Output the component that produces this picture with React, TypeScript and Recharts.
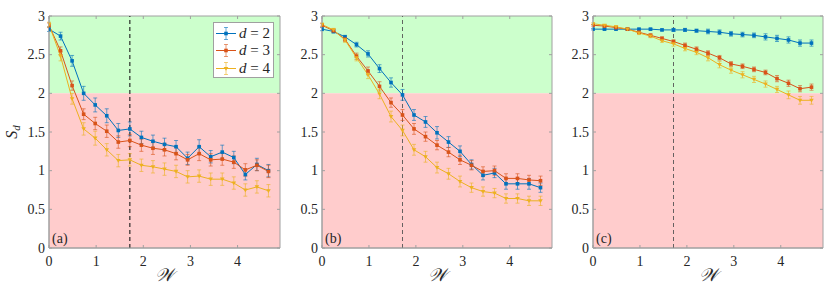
import { LineChart, Line, XAxis, YAxis, ErrorBar, ReferenceArea, ReferenceLine, Legend } from "recharts"

// disorder strength W, same grid for all three panels
const W = [0, 0.245, 0.49, 0.735, 0.98, 1.225, 1.47, 1.715, 1.96, 2.205, 2.45, 2.695, 2.94, 3.185, 3.43, 3.675, 3.92, 4.165, 4.41, 4.655]

// panel (a)
const aD2 = [2.83, 2.74, 2.42, 2.0, 1.85, 1.71, 1.52, 1.54, 1.43, 1.38, 1.34, 1.31, 1.16, 1.31, 1.18, 1.24, 1.17, 0.95, 1.08, 1.0]
const aD2Err = [0.03, 0.05, 0.07, 0.09, 0.09, 0.09, 0.09, 0.09, 0.08, 0.08, 0.08, 0.08, 0.08, 0.09, 0.08, 0.09, 0.08, 0.07, 0.08, 0.08]
const aD3 = [2.88, 2.55, 2.1, 1.73, 1.61, 1.51, 1.37, 1.39, 1.33, 1.29, 1.27, 1.22, 1.14, 1.22, 1.14, 1.15, 1.11, 1.01, 1.07, 0.99]
const aD3Err = [0.03, 0.05, 0.06, 0.07, 0.08, 0.08, 0.08, 0.08, 0.08, 0.08, 0.08, 0.08, 0.07, 0.09, 0.08, 0.08, 0.08, 0.08, 0.07, 0.08]
const aD4 = [2.89, 2.48, 1.93, 1.54, 1.42, 1.27, 1.13, 1.14, 1.07, 1.05, 1.02, 0.99, 0.92, 0.93, 0.89, 0.89, 0.84, 0.75, 0.79, 0.74]
const aD4Err = [0.03, 0.06, 0.07, 0.08, 0.09, 0.08, 0.08, 0.08, 0.08, 0.08, 0.08, 0.08, 0.08, 0.08, 0.08, 0.08, 0.08, 0.08, 0.08, 0.08]

// panel (b)
const bD2 = [2.83, 2.8, 2.73, 2.63, 2.51, 2.32, 2.14, 1.98, 1.72, 1.63, 1.49, 1.37, 1.25, 1.08, 0.94, 0.97, 0.83, 0.83, 0.83, 0.78]
const bD2Err = [0.02, 0.02, 0.02, 0.03, 0.04, 0.05, 0.06, 0.07, 0.07, 0.07, 0.08, 0.07, 0.07, 0.06, 0.06, 0.06, 0.07, 0.07, 0.07, 0.06]
const bD3 = [2.88, 2.81, 2.7, 2.48, 2.29, 2.09, 1.88, 1.72, 1.54, 1.44, 1.33, 1.24, 1.14, 1.07, 0.99, 1.0, 0.9, 0.9, 0.88, 0.87]
const bD3Err = [0.02, 0.02, 0.03, 0.04, 0.05, 0.06, 0.06, 0.07, 0.07, 0.06, 0.06, 0.06, 0.06, 0.06, 0.06, 0.06, 0.06, 0.06, 0.06, 0.06]
const bD4 = [2.89, 2.82, 2.69, 2.46, 2.24, 1.99, 1.7, 1.52, 1.27, 1.18, 1.04, 0.96, 0.86, 0.78, 0.73, 0.71, 0.64, 0.64, 0.61, 0.61]
const bD4Err = [0.02, 0.02, 0.03, 0.04, 0.05, 0.06, 0.07, 0.07, 0.07, 0.07, 0.07, 0.07, 0.07, 0.06, 0.06, 0.06, 0.06, 0.06, 0.06, 0.06]

// panel (c)
const cD2 = [2.83, 2.83, 2.83, 2.83, 2.83, 2.83, 2.82, 2.82, 2.82, 2.81, 2.8, 2.79, 2.77, 2.76, 2.75, 2.73, 2.71, 2.69, 2.65, 2.65]
const cD2Err = [0.01, 0.01, 0.01, 0.01, 0.01, 0.01, 0.01, 0.02, 0.02, 0.02, 0.03, 0.03, 0.03, 0.03, 0.03, 0.04, 0.04, 0.04, 0.04, 0.04]
const cD3 = [2.88, 2.87, 2.85, 2.83, 2.79, 2.75, 2.71, 2.67, 2.62, 2.57, 2.52, 2.46, 2.38, 2.35, 2.31, 2.27, 2.19, 2.13, 2.06, 2.08]
const cD3Err = [0.01, 0.01, 0.01, 0.01, 0.02, 0.02, 0.02, 0.02, 0.03, 0.03, 0.03, 0.03, 0.03, 0.03, 0.03, 0.03, 0.04, 0.04, 0.04, 0.04]
const cD4 = [2.9, 2.88, 2.86, 2.83, 2.78, 2.74, 2.68, 2.64, 2.58, 2.53, 2.46, 2.37, 2.3, 2.24, 2.18, 2.12, 2.05, 1.98, 1.91, 1.91]
const cD4Err = [0.01, 0.01, 0.01, 0.01, 0.02, 0.02, 0.02, 0.03, 0.03, 0.03, 0.04, 0.04, 0.04, 0.04, 0.04, 0.04, 0.04, 0.05, 0.05, 0.05]

const D_VALUES = [2, 3, 4]
const X_TICKS = [0, 1, 2, 3, 4]
const Y_TICKS = [0, 0.5, 1, 1.5, 2, 2.5, 3]
const W_CRIT = 1.715

const BLUE = "#0072BD"
const ORANGE = "#D95319"
const YELLOW = "#EDB120"
const COLORS = [BLUE, ORANGE, YELLOW]
const AXIS = "#a0a0a0"
const TXT = "#262626"
const FONT = "'Liberation Serif', 'DejaVu Serif', serif"

const TOP = 16
const PLOT_H = 232
const CHART_H = 286

function makeRows(d2: number[], e2: number[], d3: number[], e3: number[], d4: number[], e4: number[]) {
  return W.map((w, i) => ({ w, d2: d2[i], e2: e2[i], d3: d3[i], e3: e3[i], d4: d4[i], e4: e4[i] }))
}

const square = (color: string) => (p: any) => {
  if (p.cx == null || p.cy == null) return <g key={`s-${p.index}`} />
  return <rect key={`s-${p.index}`} x={p.cx - 1.8} y={p.cy - 1.8} width={3.6} height={3.6} fill={color} />
}

const triangle = (color: string) => (p: any) => {
  if (p.cx == null || p.cy == null) return <g key={`t-${p.index}`} />
  const pts = `${p.cx - 2.3},${p.cy - 1.6} ${p.cx + 2.3},${p.cy - 1.6} ${p.cx},${p.cy + 2.2}`
  return <polygon key={`t-${p.index}`} points={pts} fill={color} />
}

function XTick(props: any) {
  const { x, y, payload } = props
  return (
    <g>
      <line x1={x} x2={x} y1={y} y2={y - 3} stroke={AXIS} />
      <line x1={x} x2={x} y1={y - PLOT_H} y2={y - PLOT_H + 3} stroke={AXIS} />
      <text x={x} y={y + 18} textAnchor="middle" fontFamily={FONT} fontSize={14} fill={TXT}>{payload.value}</text>
    </g>
  )
}

const makeYTick = (plotW: number) => (props: any) => {
  const { x, y, payload } = props
  return (
    <g key={`yt-${payload.value}`}>
      <line x1={x} x2={x + 3} y1={y} y2={y} stroke={AXIS} />
      <line x1={x + plotW} x2={x + plotW - 3} y1={y} y2={y} stroke={AXIS} />
      <text x={x - 4} y={y + 4.5} textAnchor="end" fontFamily={FONT} fontSize={14} fill={TXT}>{payload.value}</text>
    </g>
  )
}

function WLabel(props: any) {
  const vb = props.viewBox || {}
  return (
    <text x={vb.x + vb.width / 2} y={vb.y + 33} textAnchor="middle" fontFamily={FONT} fontSize={18} fontStyle="italic" fill={TXT}>
      𝒲
    </text>
  )
}

function SdLabel(props: any) {
  const vb = props.viewBox || {}
  const cx = (vb.x || 0) + 17
  const cy = (vb.y || TOP) + (vb.height || PLOT_H) / 2
  return (
    <text transform={`translate(${cx}, ${cy}) rotate(-90)`} textAnchor="middle" fontFamily={FONT} fontSize={16} fill={TXT}>
      <tspan fontStyle="italic">S</tspan>
      <tspan fontStyle="italic" fontSize={11} dy={3}>d</tspan>
    </text>
  )
}

const PanelTag = (text: string) => (props: any) => {
  const vb = props.viewBox || {}
  return (
    <text x={vb.x + 3} y={vb.y + vb.height - 5} fontFamily={FONT} fontSize={14} fill={TXT}>{text}</text>
  )
}

function LegendBox() {
  return (
    <div style={{ background: "#fff", border: `1px solid ${AXIS}`, width: 61, height: 56, boxSizing: "border-box", paddingTop: 2, fontFamily: FONT, fontSize: 15, color: TXT }}>
      {D_VALUES.map((d, i) => (
        <div key={d} style={{ display: "flex", alignItems: "center", height: 17.3, whiteSpace: "nowrap" }}>
          <svg width={24} height={17} style={{ display: "block" }}>
            <line x1={2} x2={22} y1={8.5} y2={8.5} stroke={COLORS[i]} strokeWidth={1} />
            <line x1={12} x2={12} y1={2.5} y2={14.5} stroke={COLORS[i]} strokeOpacity={0.6} />
            <line x1={10} x2={14} y1={2.5} y2={2.5} stroke={COLORS[i]} strokeOpacity={0.6} />
            <line x1={10} x2={14} y1={14.5} y2={14.5} stroke={COLORS[i]} strokeOpacity={0.6} />
            {i < 2
              ? <rect x={10.2} y={6.7} width={3.6} height={3.6} fill={COLORS[i]} />
              : <polygon points="9.7,6.9 14.3,6.9 12,10.7" fill={COLORS[i]} />}
          </svg>
          <span style={{ marginLeft: 1 }}><i>d</i> = {d}</span>
        </div>
      ))}
    </div>
  )
}

interface PanelProps {
  rows: any[]
  left: number
  width: number
  yAxisWidth: number
  plotW: number
  tag: string
  dashColor: string
  first?: boolean
}

function Panel({ rows, left, width, yAxisWidth, plotW, tag, dashColor, first }: PanelProps) {
  const rightMargin = width - yAxisWidth - plotW
  return (
    <div style={{ position: "absolute", left, top: 0 }}>
      <LineChart width={width} height={CHART_H} data={rows} margin={{ top: TOP, right: rightMargin, bottom: 0, left: 0 }}>
        <ReferenceArea y1={2} y2={3} fill="#ccffcc" fillOpacity={1} stroke="none" />
        <ReferenceArea y1={0} y2={2} fill="#ffcccc" fillOpacity={1} stroke="none" label={PanelTag(tag)} />
        <XAxis
          dataKey="w"
          type="number"
          domain={[0, 4.9]}
          ticks={X_TICKS}
          allowDataOverflow
          height={CHART_H - TOP - PLOT_H}
          axisLine={{ stroke: AXIS }}
          tickLine={false}
          tickSize={0}
          tickMargin={0}
          tick={<XTick />}
          label={<WLabel />}
        />
        <YAxis
          type="number"
          domain={[0, 3]}
          ticks={Y_TICKS}
          width={yAxisWidth}
          axisLine={{ stroke: AXIS }}
          tickLine={false}
          tickSize={0}
          tickMargin={0}
          tick={makeYTick(plotW)}
          label={first ? <SdLabel /> : undefined}
        />
        <ReferenceLine x={W_CRIT} stroke={dashColor} strokeWidth={first ? 1.1 : 0.9} strokeDasharray="4 3" />
        <Line dataKey="d2" stroke={BLUE} strokeWidth={1} dot={square(BLUE)} isAnimationActive={false}>
          <ErrorBar dataKey="e2" width={2} stroke={BLUE} strokeOpacity={0.6} strokeWidth={1} direction="y" />
        </Line>
        <Line dataKey="d3" stroke={ORANGE} strokeWidth={1} dot={square(ORANGE)} isAnimationActive={false}>
          <ErrorBar dataKey="e3" width={2} stroke={ORANGE} strokeOpacity={0.6} strokeWidth={1} direction="y" />
        </Line>
        <Line dataKey="d4" stroke={YELLOW} strokeWidth={1} dot={triangle(YELLOW)} isAnimationActive={false}>
          <ErrorBar dataKey="e4" width={2} stroke={YELLOW} strokeOpacity={0.6} strokeWidth={1} direction="y" />
        </Line>
        <ReferenceArea x1={0} x2={4.9} y1={0} y2={3} fill="none" stroke={AXIS} strokeWidth={1} ifOverflow="visible" />
        {first && (
          <Legend
            layout="vertical"
            align="center"
            verticalAlign="middle"
            content={<LegendBox />}
            wrapperStyle={{ left: 213, top: 22, width: 61, height: 56 }}
          />
        )}
      </LineChart>
    </div>
  )
}

export default function App() {
  const rowsA = makeRows(aD2, aD2Err, aD3, aD3Err, aD4, aD4Err)
  const rowsB = makeRows(bD2, bD2Err, bD3, bD3Err, bD4, bD4Err)
  const rowsC = makeRows(cD2, cD2Err, cD3, cD3Err, cD4, cD4Err)

  return (
    <div style={{ position: "absolute", left: 0, top: 0, width: 830, height: CHART_H, background: "#fff" }}>
      <Panel rows={rowsA} left={0} width={290} yAxisWidth={49} plotW={231} tag="(a)" dashColor="#1a1a1a" first />
      <Panel rows={rowsB} left={290} width={272} yAxisWidth={32} plotW={230} tag="(b)" dashColor="#555" />
      <Panel rows={rowsC} left={562} width={268} yAxisWidth={31} plotW={230} tag="(c)" dashColor="#555" />
    </div>
  )
}
